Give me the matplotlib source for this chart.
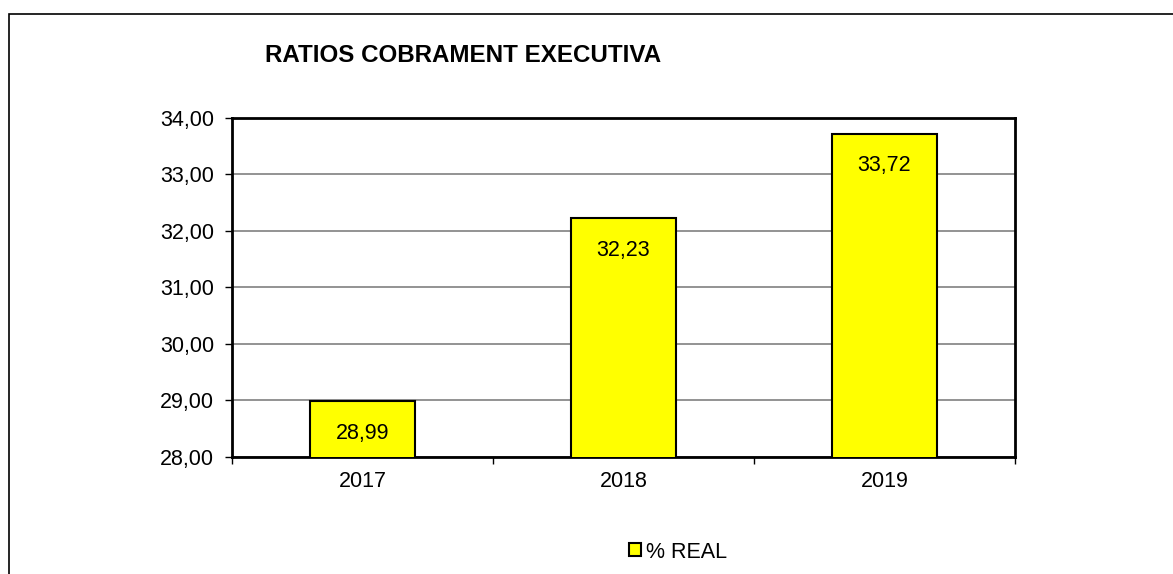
import matplotlib.pyplot as plt
from matplotlib.patches import Rectangle

plt.rcParams['font.family'] = ['Liberation Sans', 'DejaVu Sans']

# Chart data
years = ['2017', '2018', '2019']
real_pct = [28.99, 32.23, 33.72]
y_ticks = [28, 29, 30, 31, 32, 33, 34]


def fmt_es(v):
    return f"{v:.2f}".replace('.', ',')


fig = plt.figure(figsize=(11.73, 5.74), dpi=100)
W, H = 1173, 574

# outer frame (extends past right and bottom edges)
fig.patches.append(Rectangle((9 / W, -0.1), 1.2, 1 - 14 / H + 0.1,
                             transform=fig.transFigure, fill=False,
                             edgecolor='black', linewidth=1.2))

ax = fig.add_axes([232 / W, 1 - 457 / H, (1015 - 232) / W, (457 - 118) / H])

x = range(len(years))
bars = ax.bar(x, real_pct, width=0.4, color='#ffff00', edgecolor='black',
              linewidth=1.5, zorder=3, label='% REAL')

ax.set_xlim(-0.5, 2.5)
ax.set_ylim(28, 34)
ax.set_yticks(y_ticks)
ax.set_yticklabels([fmt_es(v) for v in y_ticks], fontsize=15.5)
ax.yaxis.grid(True, color='#808080', linewidth=1.2, zorder=0)

# category labels between boundary ticks
ax.set_xticks([-0.5, 0.5, 1.5, 2.5])
ax.set_xticklabels([])
ax.set_xticks(list(x), minor=True)
ax.set_xticklabels(years, minor=True, fontsize=15.5)
ax.tick_params(axis='x', which='minor', length=0, pad=10)
ax.tick_params(axis='x', which='major', length=5, width=1, direction='out')
ax.tick_params(axis='y', length=5, width=1, direction='out', pad=8)

for s in ax.spines.values():
    s.set_linewidth(2)

# value labels inside the bars
for i, v in enumerate(real_pct):
    ax.annotate(fmt_es(v), (i, v), xytext=(0, -32), textcoords='offset pixels',
                ha='center', va='center', fontsize=15.5, zorder=4)

fig.text(265 / W, 1 - 55 / H, 'RATIOS COBRAMENT EXECUTIVA', fontsize=17.4,
         fontweight='bold', ha='left', va='center')

leg = fig.legend(handles=[bars], labels=['% REAL'], loc='center',
                 bbox_to_anchor=(678 / W, 1 - 552 / H), frameon=False,
                 fontsize=15.5, handlelength=0.55, handleheight=0.55,
                 handletextpad=0.25)

fig.savefig('out.png', dpi=100)
